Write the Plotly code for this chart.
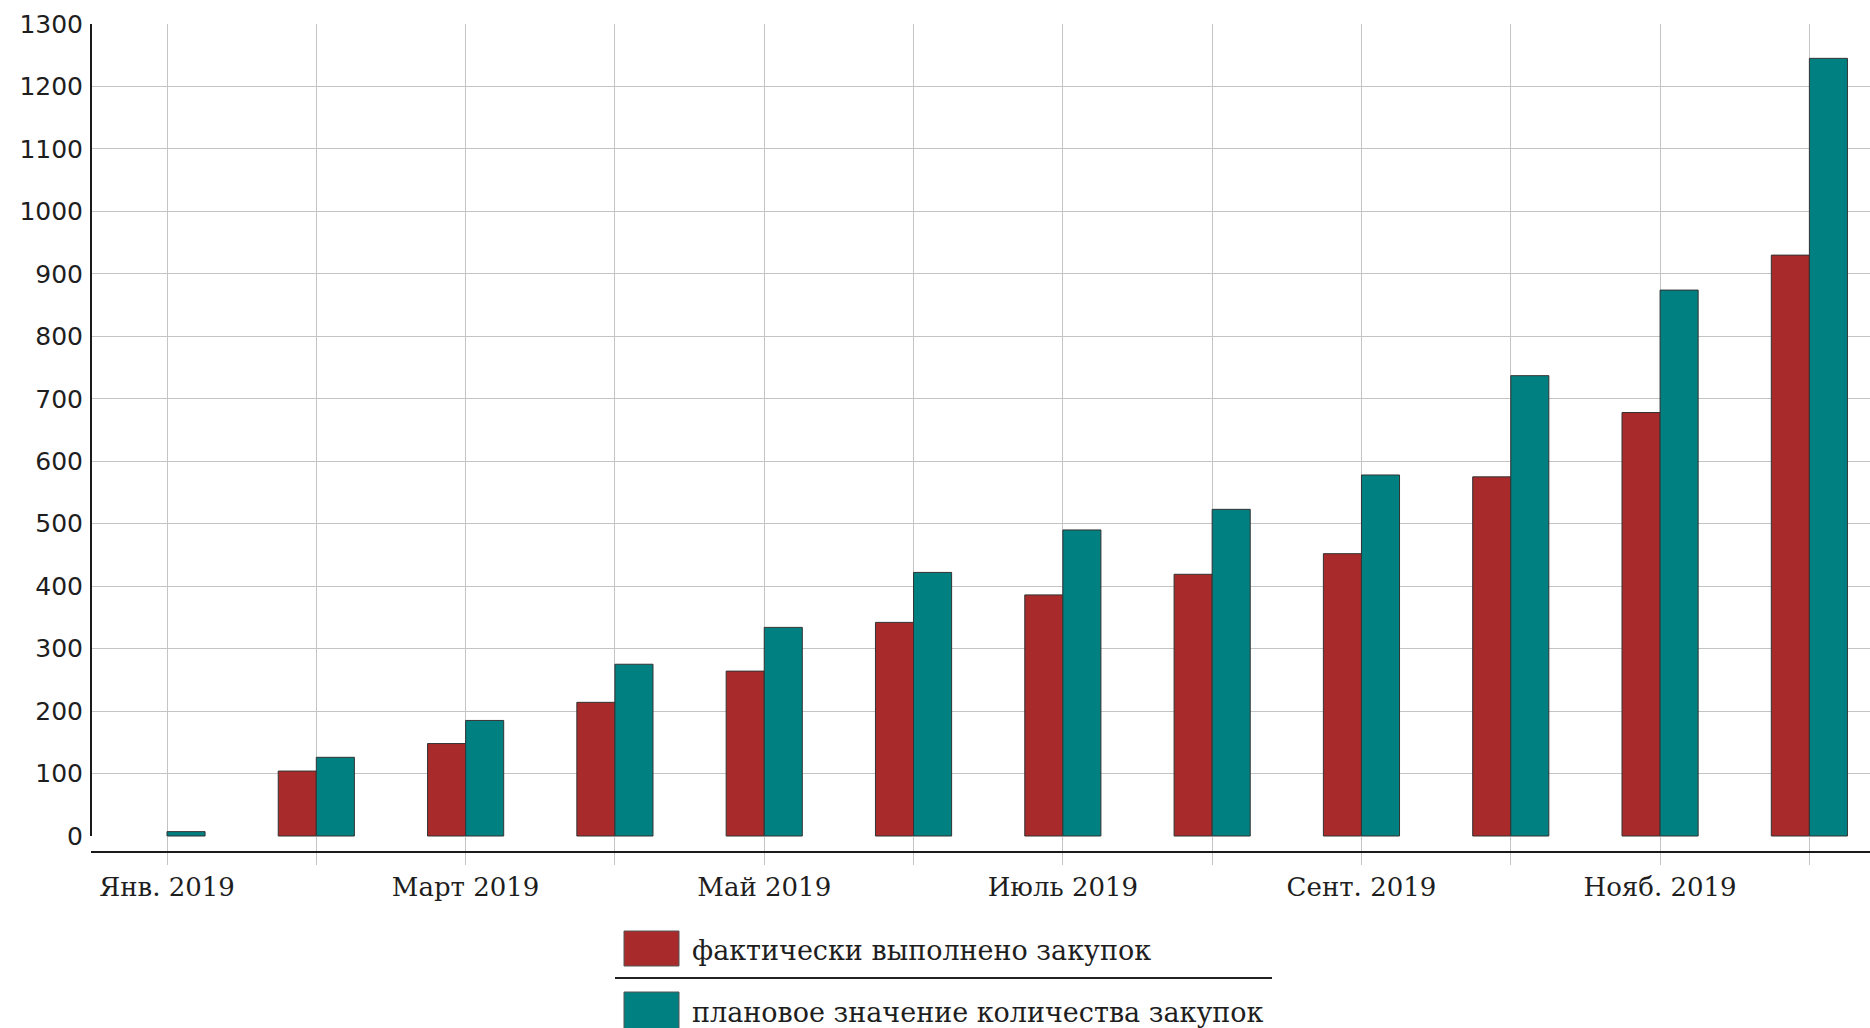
import plotly.graph_objects as go

# Monthly procurement counts, 2019
months = ["Янв. 2019", "Февр. 2019", "Март 2019", "Апр. 2019", "Май 2019", "Июнь 2019",
          "Июль 2019", "Авг. 2019", "Сент. 2019", "Окт. 2019", "Нояб. 2019", "Дек. 2019"]
tick_labels = ["Янв. 2019", "", "Март 2019", "", "Май 2019", "",
               "Июль 2019", "", "Сент. 2019", "", "Нояб. 2019", ""]
actual = [None, 104, 148, 214, 264, 342, 386, 419, 452, 575, 678, 930]
planned = [7, 126, 185, 275, 334, 422, 490, 523, 578, 737, 874, 1245]
y_ticks = list(range(0, 1301, 100))

series_names = ["фактически выполнено закупок", "плановое значение количества закупок"]
series_colors = ["#a82a2a", "#008080"]

W, H = 1870, 1028
L, R, T, B = 91, 0, 24, 177
plot_w = W - L - R
plot_h = H - T - B


def px_x(p):
    return (p - L) / plot_w


def px_y(p):
    return (H - B - p) / plot_h


fig = go.Figure()
for name, vals, col in zip(series_names, [actual, planned], series_colors):
    fig.add_trace(go.Bar(
        x=months, y=vals, name=name,
        marker=dict(color=col, line=dict(color="#333333", width=1)),
        showlegend=False,
    ))

grid = "#c4c4c4"
fig.update_layout(
    width=W, height=H,
    margin=dict(l=L, r=R, t=T, b=B, pad=0),
    paper_bgcolor="white", plot_bgcolor="white",
    barmode="group", bargap=0.49, bargroupgap=0,
    xaxis=dict(
        type="category", categoryarray=months,
        range=[-0.509, 11.406],
        tickmode="array", tickvals=months, ticktext=tick_labels,
        showgrid=True, gridcolor=grid, gridwidth=1,
        ticks="outside", ticklen=12, tickcolor=grid, tickwidth=1,
        showline=True, linecolor="#1a1a1a", linewidth=2,
        tickfont=dict(family="DejaVu Serif", size=26, color="#1e1e1e"),
    ),
    yaxis=dict(
        range=[-24, 1300],
        tickmode="array", tickvals=y_ticks,
        showgrid=True, gridcolor=grid, gridwidth=1,
        zeroline=True, zerolinecolor="white", zerolinewidth=1,
        showline=False, ticks="",
        ticklabelstandoff=7,
        tickfont=dict(family="DejaVu Sans", size=25, color="#1e1e1e"),
    ),
)

# vertical axis line from 0 up to the top of the scale
fig.add_shape(type="line", xref="paper", yref="y", x0=0, x1=0, y0=0, y1=1300,
              line=dict(color="#1a1a1a", width=2), layer="above")

# legend drawn below the plot: swatches, labels and a divider
sw_x0, sw_x1 = 624, 679
rows = [(931, 966, 950), (992, 1040, 1012)]
for (y0, y1, yc), name, col in zip(rows, series_names, series_colors):
    fig.add_shape(type="rect", xref="paper", yref="paper",
                  x0=px_x(sw_x0), x1=px_x(sw_x1), y0=px_y(y0), y1=px_y(y1),
                  fillcolor=col, line=dict(color="#555555", width=1))
    fig.add_annotation(xref="paper", yref="paper", x=px_x(690), y=px_y(yc),
                       text=name, showarrow=False, xanchor="left", yanchor="middle",
                       font=dict(family="DejaVu Serif", size=27, color="#1e1e1e"))
fig.add_shape(type="line", xref="paper", yref="paper",
              x0=px_x(615), x1=px_x(1272), y0=px_y(978), y1=px_y(978),
              line=dict(color="#222222", width=2))

fig.write_html("out.html")
